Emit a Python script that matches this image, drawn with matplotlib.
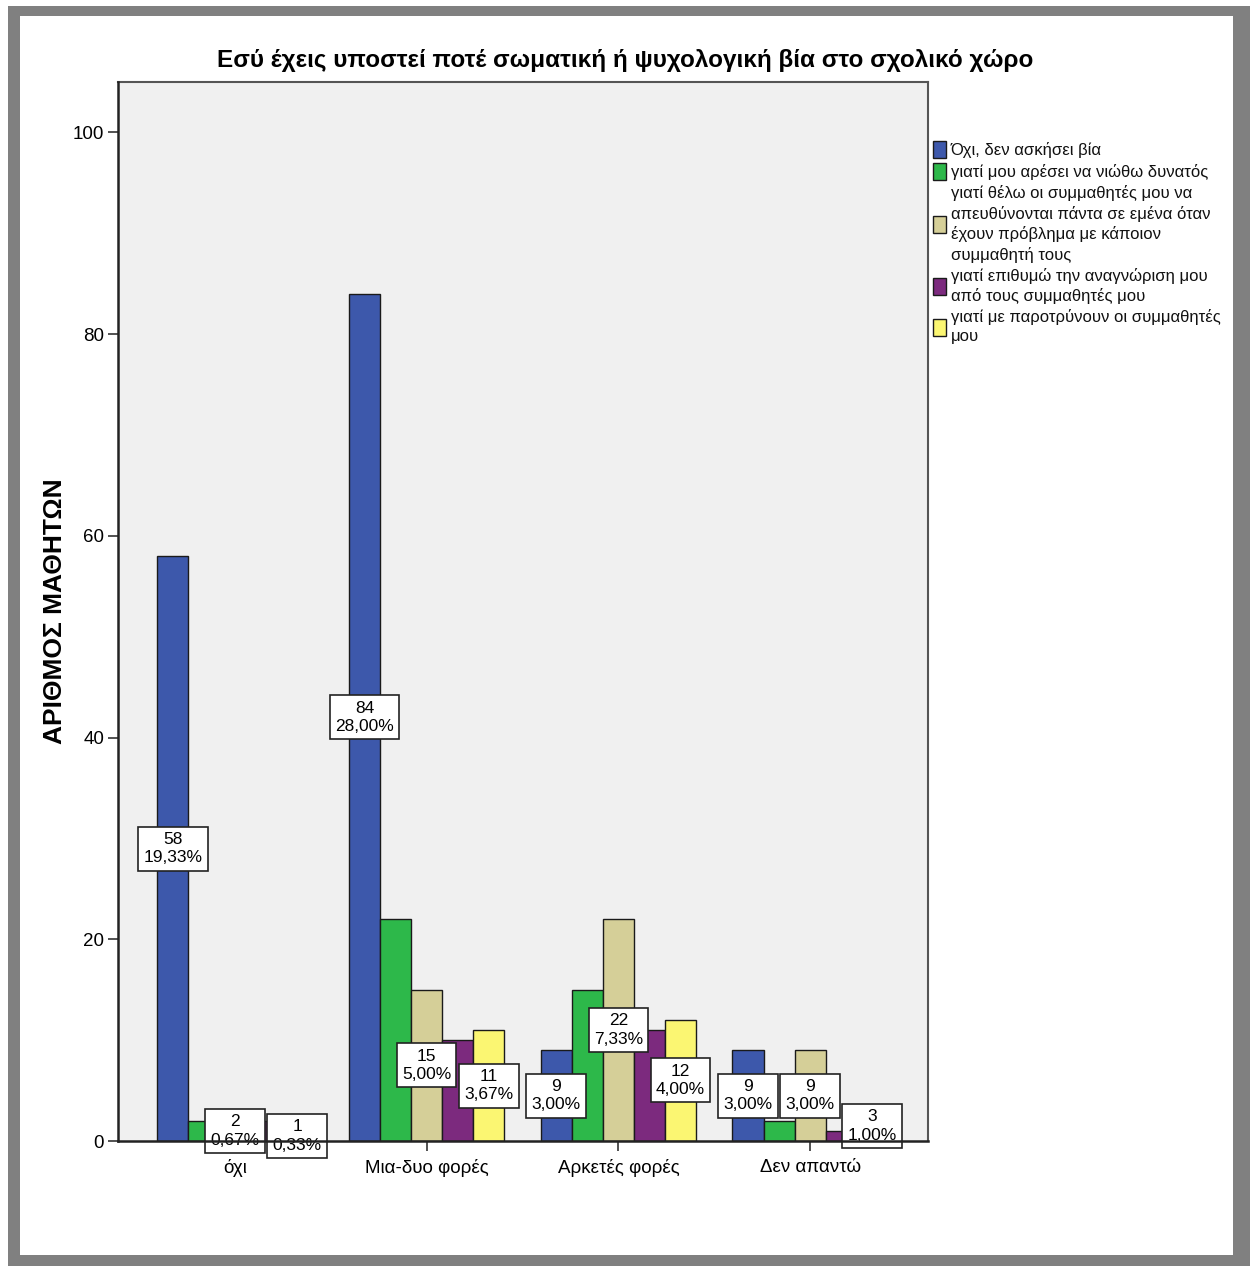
import numpy as np
import matplotlib
matplotlib.use("Agg")
import matplotlib.pyplot as plt
from matplotlib.patches import Rectangle, Patch

# data
categories = ["όχι", "Μια-δυο φορές", "Αρκετές φορές", "Δεν απαντώ"]
series_names = [
    "Όχι, δεν ασκήσει βία",
    "γιατί μου αρέσει να νιώθω δυνατός",
    "γιατί θέλω οι συμμαθητές μου να\nαπευθύνονται πάντα σε εμένα όταν\nέχουν πρόβλημα με κάποιον\nσυμμαθητή τους",
    "γιατί επιθυμώ την αναγνώριση μου\nαπό τους συμμαθητές μου",
    "γιατί με παροτρύνουν οι συμμαθητές\nμου",
]
no_violence = [58, 84, 9, 9]
feel_strong = [2, 22, 15, 2]
be_asked = [2, 15, 22, 9]
recognition = [2, 10, 11, 1]
provoked = [1, 11, 12, 3]
total = 300
# which series carry value labels (as in the original)
labelled = [0, 2, 4]

colors = ["#3d58ab", "#2db84a", "#d5cf98", "#7c2a7e", "#fbf672"]

plt.rcParams['font.family'] = ['Liberation Sans', 'DejaVu Sans']

W, H = 1255, 1266
fig = plt.figure(figsize=(W / 100, H / 100), dpi=100)
fig.patch.set_facecolor("white")

# grey frame round the whole picture
fig.patches.append(Rectangle((8 / W, 0), (1250 - 8) / W, (H - 6) / H,
                             transform=fig.transFigure, facecolor="#808080",
                             edgecolor="none", zorder=-3))
fig.patches.append(Rectangle((20 / W, (H - 1255) / H), (1233 - 20) / W, (1255 - 16) / H,
                             transform=fig.transFigure, facecolor="white",
                             edgecolor="none", zorder=-2))

ax = fig.add_axes([118 / W, (H - 1141) / H, (928 - 118) / W, (1141 - 82) / H])
ax.set_facecolor("#f0f0f0")

def pct(v):
    return ("%.2f" % (v / total * 100)).replace(".", ",") + "%"

values = [no_violence, feel_strong, be_asked, recognition, provoked]
x = np.arange(len(categories))
bw = 0.162
for i, vals in enumerate(values):
    pos = x + (i - 2) * bw
    ax.bar(pos, vals, width=bw, color=colors[i], edgecolor="#1a1a1a",
           linewidth=1, zorder=2)
    if i in labelled:
        for p, v in zip(pos, vals):
            ax.text(p, v / 2, "%d\n%s" % (v, pct(v)),
                    ha="center", va="center", fontsize=12.5, linespacing=1.3,
                    zorder=4,
                    bbox=dict(boxstyle="square,pad=0.3", facecolor="white",
                              edgecolor="#222222", linewidth=1.2))

ax.set_xlim(-0.61, 3.615)
ax.set_ylim(0, 105)
ax.set_yticks([0, 20, 40, 60, 80, 100])
ax.set_xticks(x)
ax.set_xticklabels(categories, fontsize=13.5)
ax.tick_params(axis="y", labelsize=13.5, length=7, width=1.2, color="#333333", pad=3)
ax.tick_params(axis="x", length=7, width=1.2, color="#333333", pad=6)

for s in ["left", "bottom"]:
    ax.spines[s].set_linewidth(1.8)
    ax.spines[s].set_color("#222222")
    ax.spines[s].set_zorder(5)
for s in ["top", "right"]:
    ax.spines[s].set_linewidth(1.5)
    ax.spines[s].set_color("#555555")

ax.set_ylabel("ΑΡΙΘΜΟΣ ΜΑΘΗΤΩΝ", fontsize=19, fontweight="bold")
ax.yaxis.set_label_coords(-0.063, 0.5)

fig.text(625 / W, 1 - 60 / H,
         "Εσύ έχεις υποστεί ποτέ σωματική ή ψυχολογική βία στο σχολικό χώρο",
         ha="center", va="center", fontsize=17.5, fontweight="bold")

handles = [Patch(facecolor=c, edgecolor="#1a1a1a", linewidth=1) for c in colors]
leg = fig.legend(handles, series_names, loc="upper left",
                 bbox_to_anchor=(926 / W, 1 - 134 / H), frameon=False,
                 fontsize=12, handlelength=0.8, handleheight=1.2,
                 handletextpad=0.3, labelspacing=0.3, borderaxespad=0)
for t in leg.get_texts():
    t.set_linespacing(1.35)
    t.set_color("#111111")

fig.savefig("out.png", dpi=100, facecolor=fig.get_facecolor())
